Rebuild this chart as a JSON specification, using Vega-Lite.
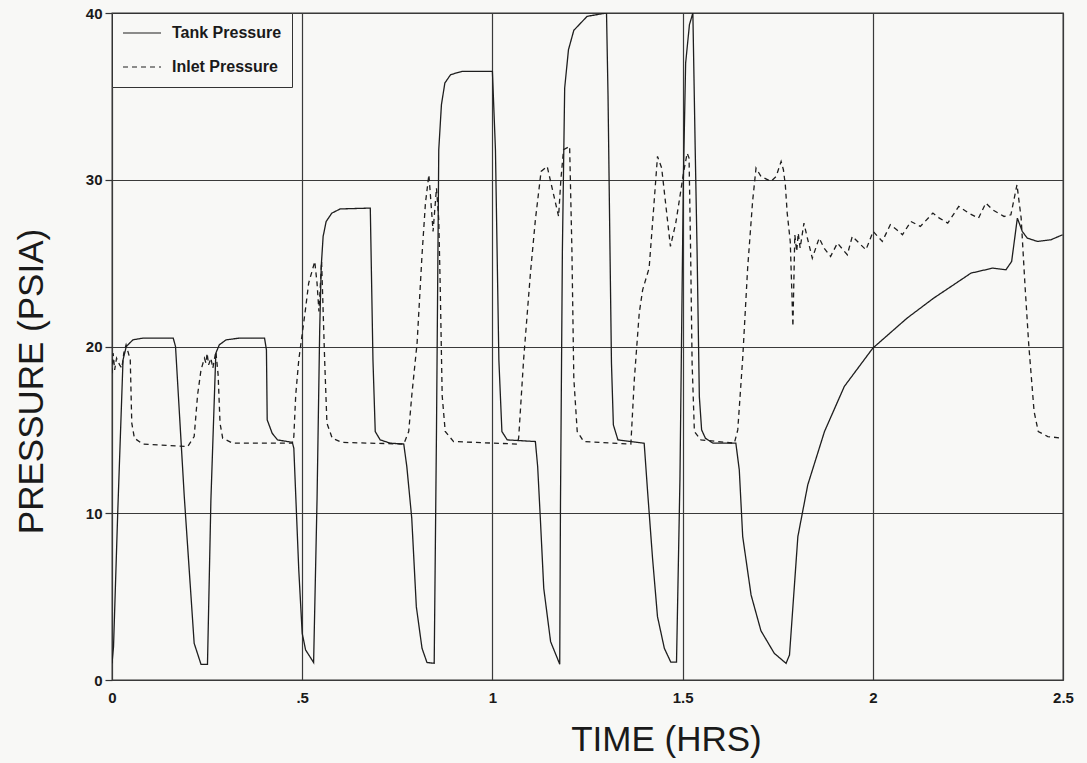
{
  "$schema": "https://vega.github.io/schema/vega-lite/v6.json",
  "autosize": {"type": "none"},
  "width": 951,
  "height": 667,
  "padding": {"left": 112, "top": 13, "right": 24, "bottom": 83},
  "background": "#f8f8f6",
  "config": {
    "view": {"stroke": "#333333", "strokeWidth": 1.3},
    "axis": {
      "labelFont": "Liberation Sans",
      "labelFontWeight": "bold",
      "labelFontSize": 15,
      "labelColor": "#1a1a1a",
      "titleFont": "Liberation Sans",
      "titleFontWeight": "normal",
      "titleFontSize": 35,
      "titleColor": "#1a1a1a",
      "gridColor": "#3a3a3a",
      "gridOpacity": 1,
      "gridWidth": 1.2,
      "domain": false,
      "tickColor": "#333333"
    }
  },
  "data": {
    "values": [
      {"t": 0.0, "p": 1.0, "s": "Tank Pressure"},
      {"t": 0.004, "p": 2.0, "s": "Tank Pressure"},
      {"t": 0.015, "p": 10.0, "s": "Tank Pressure"},
      {"t": 0.029, "p": 19.2, "s": "Tank Pressure"},
      {"t": 0.0375, "p": 20.0, "s": "Tank Pressure"},
      {"t": 0.055, "p": 20.4, "s": "Tank Pressure"},
      {"t": 0.081, "p": 20.5, "s": "Tank Pressure"},
      {"t": 0.161, "p": 20.5, "s": "Tank Pressure"},
      {"t": 0.167, "p": 20.0, "s": "Tank Pressure"},
      {"t": 0.19, "p": 11.0, "s": "Tank Pressure"},
      {"t": 0.216, "p": 2.2, "s": "Tank Pressure"},
      {"t": 0.234, "p": 0.94, "s": "Tank Pressure"},
      {"t": 0.251, "p": 0.94, "s": "Tank Pressure"},
      {"t": 0.26, "p": 10.8, "s": "Tank Pressure"},
      {"t": 0.273, "p": 19.6, "s": "Tank Pressure"},
      {"t": 0.282, "p": 20.1, "s": "Tank Pressure"},
      {"t": 0.3, "p": 20.4, "s": "Tank Pressure"},
      {"t": 0.334, "p": 20.5, "s": "Tank Pressure"},
      {"t": 0.401, "p": 20.5, "s": "Tank Pressure"},
      {"t": 0.406, "p": 19.8, "s": "Tank Pressure"},
      {"t": 0.408, "p": 15.6, "s": "Tank Pressure"},
      {"t": 0.421, "p": 14.8, "s": "Tank Pressure"},
      {"t": 0.435, "p": 14.4, "s": "Tank Pressure"},
      {"t": 0.474, "p": 14.25, "s": "Tank Pressure"},
      {"t": 0.478, "p": 13.9, "s": "Tank Pressure"},
      {"t": 0.491, "p": 6.6, "s": "Tank Pressure"},
      {"t": 0.5, "p": 2.8, "s": "Tank Pressure"},
      {"t": 0.509, "p": 1.8, "s": "Tank Pressure"},
      {"t": 0.53, "p": 1.05, "s": "Tank Pressure"},
      {"t": 0.539, "p": 10.8, "s": "Tank Pressure"},
      {"t": 0.546, "p": 21.0, "s": "Tank Pressure"},
      {"t": 0.55, "p": 24.8, "s": "Tank Pressure"},
      {"t": 0.555, "p": 26.6, "s": "Tank Pressure"},
      {"t": 0.563, "p": 27.5, "s": "Tank Pressure"},
      {"t": 0.578, "p": 28.0, "s": "Tank Pressure"},
      {"t": 0.6, "p": 28.25, "s": "Tank Pressure"},
      {"t": 0.679, "p": 28.3, "s": "Tank Pressure"},
      {"t": 0.686, "p": 19.2, "s": "Tank Pressure"},
      {"t": 0.692, "p": 14.9, "s": "Tank Pressure"},
      {"t": 0.705, "p": 14.4, "s": "Tank Pressure"},
      {"t": 0.732, "p": 14.2, "s": "Tank Pressure"},
      {"t": 0.767, "p": 14.15, "s": "Tank Pressure"},
      {"t": 0.775, "p": 12.8, "s": "Tank Pressure"},
      {"t": 0.788, "p": 9.7, "s": "Tank Pressure"},
      {"t": 0.8, "p": 4.4, "s": "Tank Pressure"},
      {"t": 0.815, "p": 1.9, "s": "Tank Pressure"},
      {"t": 0.828, "p": 1.05, "s": "Tank Pressure"},
      {"t": 0.847, "p": 1.0, "s": "Tank Pressure"},
      {"t": 0.853, "p": 14.9, "s": "Tank Pressure"},
      {"t": 0.859, "p": 31.8, "s": "Tank Pressure"},
      {"t": 0.866, "p": 34.5, "s": "Tank Pressure"},
      {"t": 0.875, "p": 35.8, "s": "Tank Pressure"},
      {"t": 0.89, "p": 36.3, "s": "Tank Pressure"},
      {"t": 0.92, "p": 36.5, "s": "Tank Pressure"},
      {"t": 1.0, "p": 36.5, "s": "Tank Pressure"},
      {"t": 1.008, "p": 31.8, "s": "Tank Pressure"},
      {"t": 1.017, "p": 19.2, "s": "Tank Pressure"},
      {"t": 1.025, "p": 14.9, "s": "Tank Pressure"},
      {"t": 1.039, "p": 14.4, "s": "Tank Pressure"},
      {"t": 1.113, "p": 14.3, "s": "Tank Pressure"},
      {"t": 1.119, "p": 12.8, "s": "Tank Pressure"},
      {"t": 1.126, "p": 9.7, "s": "Tank Pressure"},
      {"t": 1.135, "p": 5.5, "s": "Tank Pressure"},
      {"t": 1.153, "p": 2.3, "s": "Tank Pressure"},
      {"t": 1.177, "p": 0.95, "s": "Tank Pressure"},
      {"t": 1.179, "p": 10.7, "s": "Tank Pressure"},
      {"t": 1.184, "p": 25.8, "s": "Tank Pressure"},
      {"t": 1.19, "p": 35.5, "s": "Tank Pressure"},
      {"t": 1.2, "p": 37.8, "s": "Tank Pressure"},
      {"t": 1.214, "p": 38.96, "s": "Tank Pressure"},
      {"t": 1.249, "p": 39.8, "s": "Tank Pressure"},
      {"t": 1.3, "p": 40.0, "s": "Tank Pressure"},
      {"t": 1.304, "p": 35.0, "s": "Tank Pressure"},
      {"t": 1.309, "p": 26.0, "s": "Tank Pressure"},
      {"t": 1.313, "p": 19.0, "s": "Tank Pressure"},
      {"t": 1.318, "p": 15.3, "s": "Tank Pressure"},
      {"t": 1.33, "p": 14.4, "s": "Tank Pressure"},
      {"t": 1.399, "p": 14.2, "s": "Tank Pressure"},
      {"t": 1.408, "p": 11.3, "s": "Tank Pressure"},
      {"t": 1.421, "p": 7.3, "s": "Tank Pressure"},
      {"t": 1.434, "p": 3.8, "s": "Tank Pressure"},
      {"t": 1.452, "p": 1.9, "s": "Tank Pressure"},
      {"t": 1.469, "p": 1.07, "s": "Tank Pressure"},
      {"t": 1.484, "p": 1.07, "s": "Tank Pressure"},
      {"t": 1.493, "p": 12.0, "s": "Tank Pressure"},
      {"t": 1.502, "p": 30.0, "s": "Tank Pressure"},
      {"t": 1.508, "p": 37.0, "s": "Tank Pressure"},
      {"t": 1.518, "p": 39.3, "s": "Tank Pressure"},
      {"t": 1.527, "p": 40.0, "s": "Tank Pressure"},
      {"t": 1.533, "p": 32.0, "s": "Tank Pressure"},
      {"t": 1.538, "p": 25.8, "s": "Tank Pressure"},
      {"t": 1.544, "p": 17.0, "s": "Tank Pressure"},
      {"t": 1.55, "p": 15.0, "s": "Tank Pressure"},
      {"t": 1.56, "p": 14.5, "s": "Tank Pressure"},
      {"t": 1.58, "p": 14.2, "s": "Tank Pressure"},
      {"t": 1.64, "p": 14.2, "s": "Tank Pressure"},
      {"t": 1.649, "p": 12.6, "s": "Tank Pressure"},
      {"t": 1.658, "p": 8.6, "s": "Tank Pressure"},
      {"t": 1.68, "p": 5.1, "s": "Tank Pressure"},
      {"t": 1.706, "p": 2.95, "s": "Tank Pressure"},
      {"t": 1.741, "p": 1.6, "s": "Tank Pressure"},
      {"t": 1.772, "p": 1.0, "s": "Tank Pressure"},
      {"t": 1.781, "p": 1.5, "s": "Tank Pressure"},
      {"t": 1.79, "p": 4.4, "s": "Tank Pressure"},
      {"t": 1.803, "p": 8.6, "s": "Tank Pressure"},
      {"t": 1.829, "p": 11.7, "s": "Tank Pressure"},
      {"t": 1.873, "p": 14.9, "s": "Tank Pressure"},
      {"t": 1.925, "p": 17.6, "s": "Tank Pressure"},
      {"t": 2.0, "p": 19.9, "s": "Tank Pressure"},
      {"t": 2.03, "p": 20.5, "s": "Tank Pressure"},
      {"t": 2.09, "p": 21.7, "s": "Tank Pressure"},
      {"t": 2.16, "p": 22.9, "s": "Tank Pressure"},
      {"t": 2.232, "p": 24.0, "s": "Tank Pressure"},
      {"t": 2.258, "p": 24.4, "s": "Tank Pressure"},
      {"t": 2.315, "p": 24.7, "s": "Tank Pressure"},
      {"t": 2.35, "p": 24.6, "s": "Tank Pressure"},
      {"t": 2.365, "p": 25.1, "s": "Tank Pressure"},
      {"t": 2.38, "p": 27.7, "s": "Tank Pressure"},
      {"t": 2.393, "p": 26.9, "s": "Tank Pressure"},
      {"t": 2.406, "p": 26.5, "s": "Tank Pressure"},
      {"t": 2.433, "p": 26.3, "s": "Tank Pressure"},
      {"t": 2.468, "p": 26.4, "s": "Tank Pressure"},
      {"t": 2.499, "p": 26.7, "s": "Tank Pressure"},

      {"t": 0.0, "p": 18.4, "s": "Inlet Pressure"},
      {"t": 0.003, "p": 19.6, "s": "Inlet Pressure"},
      {"t": 0.007, "p": 18.6, "s": "Inlet Pressure"},
      {"t": 0.012, "p": 19.3, "s": "Inlet Pressure"},
      {"t": 0.02, "p": 18.9, "s": "Inlet Pressure"},
      {"t": 0.026, "p": 18.7, "s": "Inlet Pressure"},
      {"t": 0.031, "p": 19.6, "s": "Inlet Pressure"},
      {"t": 0.037, "p": 20.1, "s": "Inlet Pressure"},
      {"t": 0.048, "p": 19.2, "s": "Inlet Pressure"},
      {"t": 0.052, "p": 15.4, "s": "Inlet Pressure"},
      {"t": 0.059, "p": 14.5, "s": "Inlet Pressure"},
      {"t": 0.081, "p": 14.15, "s": "Inlet Pressure"},
      {"t": 0.199, "p": 14.0, "s": "Inlet Pressure"},
      {"t": 0.216, "p": 14.6, "s": "Inlet Pressure"},
      {"t": 0.225, "p": 17.1, "s": "Inlet Pressure"},
      {"t": 0.234, "p": 18.6, "s": "Inlet Pressure"},
      {"t": 0.243, "p": 19.3, "s": "Inlet Pressure"},
      {"t": 0.247, "p": 19.0, "s": "Inlet Pressure"},
      {"t": 0.25, "p": 19.6, "s": "Inlet Pressure"},
      {"t": 0.254, "p": 18.9, "s": "Inlet Pressure"},
      {"t": 0.26, "p": 19.3, "s": "Inlet Pressure"},
      {"t": 0.265, "p": 18.7, "s": "Inlet Pressure"},
      {"t": 0.273, "p": 19.7, "s": "Inlet Pressure"},
      {"t": 0.279, "p": 18.3, "s": "Inlet Pressure"},
      {"t": 0.284, "p": 15.4, "s": "Inlet Pressure"},
      {"t": 0.291, "p": 14.5, "s": "Inlet Pressure"},
      {"t": 0.317, "p": 14.2, "s": "Inlet Pressure"},
      {"t": 0.474, "p": 14.2, "s": "Inlet Pressure"},
      {"t": 0.478, "p": 14.6, "s": "Inlet Pressure"},
      {"t": 0.483, "p": 17.1, "s": "Inlet Pressure"},
      {"t": 0.491, "p": 19.2, "s": "Inlet Pressure"},
      {"t": 0.509, "p": 22.3, "s": "Inlet Pressure"},
      {"t": 0.517, "p": 23.8, "s": "Inlet Pressure"},
      {"t": 0.533, "p": 25.1, "s": "Inlet Pressure"},
      {"t": 0.539, "p": 23.8, "s": "Inlet Pressure"},
      {"t": 0.544, "p": 22.1, "s": "Inlet Pressure"},
      {"t": 0.551, "p": 25.1, "s": "Inlet Pressure"},
      {"t": 0.559, "p": 19.2, "s": "Inlet Pressure"},
      {"t": 0.565, "p": 15.4, "s": "Inlet Pressure"},
      {"t": 0.579, "p": 14.5, "s": "Inlet Pressure"},
      {"t": 0.605, "p": 14.25, "s": "Inlet Pressure"},
      {"t": 0.767, "p": 14.15, "s": "Inlet Pressure"},
      {"t": 0.78, "p": 14.9, "s": "Inlet Pressure"},
      {"t": 0.788, "p": 17.05, "s": "Inlet Pressure"},
      {"t": 0.802, "p": 20.2, "s": "Inlet Pressure"},
      {"t": 0.815, "p": 25.5, "s": "Inlet Pressure"},
      {"t": 0.824, "p": 28.6, "s": "Inlet Pressure"},
      {"t": 0.833, "p": 30.3, "s": "Inlet Pressure"},
      {"t": 0.837, "p": 29.1, "s": "Inlet Pressure"},
      {"t": 0.844, "p": 26.9, "s": "Inlet Pressure"},
      {"t": 0.853, "p": 29.5, "s": "Inlet Pressure"},
      {"t": 0.859, "p": 27.6, "s": "Inlet Pressure"},
      {"t": 0.863, "p": 23.4, "s": "Inlet Pressure"},
      {"t": 0.868, "p": 17.05, "s": "Inlet Pressure"},
      {"t": 0.876, "p": 14.9, "s": "Inlet Pressure"},
      {"t": 0.898, "p": 14.3, "s": "Inlet Pressure"},
      {"t": 1.065, "p": 14.15, "s": "Inlet Pressure"},
      {"t": 1.069, "p": 14.5, "s": "Inlet Pressure"},
      {"t": 1.082, "p": 19.2, "s": "Inlet Pressure"},
      {"t": 1.1, "p": 24.4, "s": "Inlet Pressure"},
      {"t": 1.113, "p": 27.6, "s": "Inlet Pressure"},
      {"t": 1.128, "p": 30.5, "s": "Inlet Pressure"},
      {"t": 1.144, "p": 30.8, "s": "Inlet Pressure"},
      {"t": 1.157, "p": 29.5, "s": "Inlet Pressure"},
      {"t": 1.174, "p": 27.8, "s": "Inlet Pressure"},
      {"t": 1.18, "p": 30.0, "s": "Inlet Pressure"},
      {"t": 1.187, "p": 31.8, "s": "Inlet Pressure"},
      {"t": 1.203, "p": 32.0, "s": "Inlet Pressure"},
      {"t": 1.209, "p": 25.8, "s": "Inlet Pressure"},
      {"t": 1.214, "p": 18.1, "s": "Inlet Pressure"},
      {"t": 1.223, "p": 14.9, "s": "Inlet Pressure"},
      {"t": 1.24, "p": 14.3, "s": "Inlet Pressure"},
      {"t": 1.364, "p": 14.15, "s": "Inlet Pressure"},
      {"t": 1.373, "p": 18.0, "s": "Inlet Pressure"},
      {"t": 1.386, "p": 22.0, "s": "Inlet Pressure"},
      {"t": 1.395, "p": 23.4, "s": "Inlet Pressure"},
      {"t": 1.412, "p": 24.7, "s": "Inlet Pressure"},
      {"t": 1.421, "p": 27.4, "s": "Inlet Pressure"},
      {"t": 1.434, "p": 31.4, "s": "Inlet Pressure"},
      {"t": 1.445, "p": 30.7, "s": "Inlet Pressure"},
      {"t": 1.468, "p": 26.0, "s": "Inlet Pressure"},
      {"t": 1.482, "p": 27.4, "s": "Inlet Pressure"},
      {"t": 1.493, "p": 29.0, "s": "Inlet Pressure"},
      {"t": 1.503, "p": 30.5, "s": "Inlet Pressure"},
      {"t": 1.512, "p": 31.6, "s": "Inlet Pressure"},
      {"t": 1.517, "p": 31.3, "s": "Inlet Pressure"},
      {"t": 1.521, "p": 25.8, "s": "Inlet Pressure"},
      {"t": 1.525, "p": 19.0, "s": "Inlet Pressure"},
      {"t": 1.531, "p": 14.9, "s": "Inlet Pressure"},
      {"t": 1.548, "p": 14.4, "s": "Inlet Pressure"},
      {"t": 1.636, "p": 14.2, "s": "Inlet Pressure"},
      {"t": 1.645, "p": 15.0, "s": "Inlet Pressure"},
      {"t": 1.658, "p": 19.3, "s": "Inlet Pressure"},
      {"t": 1.671, "p": 24.7, "s": "Inlet Pressure"},
      {"t": 1.684, "p": 28.7, "s": "Inlet Pressure"},
      {"t": 1.693, "p": 30.7, "s": "Inlet Pressure"},
      {"t": 1.706, "p": 30.2, "s": "Inlet Pressure"},
      {"t": 1.732, "p": 29.9, "s": "Inlet Pressure"},
      {"t": 1.746, "p": 30.2, "s": "Inlet Pressure"},
      {"t": 1.759, "p": 31.1, "s": "Inlet Pressure"},
      {"t": 1.765, "p": 30.6, "s": "Inlet Pressure"},
      {"t": 1.77, "p": 29.7, "s": "Inlet Pressure"},
      {"t": 1.775, "p": 28.0, "s": "Inlet Pressure"},
      {"t": 1.783, "p": 26.3, "s": "Inlet Pressure"},
      {"t": 1.79, "p": 21.2, "s": "Inlet Pressure"},
      {"t": 1.795, "p": 26.7, "s": "Inlet Pressure"},
      {"t": 1.8, "p": 25.7, "s": "Inlet Pressure"},
      {"t": 1.804, "p": 26.8, "s": "Inlet Pressure"},
      {"t": 1.809, "p": 25.9, "s": "Inlet Pressure"},
      {"t": 1.819, "p": 27.4, "s": "Inlet Pressure"},
      {"t": 1.828, "p": 26.5, "s": "Inlet Pressure"},
      {"t": 1.841, "p": 25.3, "s": "Inlet Pressure"},
      {"t": 1.859, "p": 26.5, "s": "Inlet Pressure"},
      {"t": 1.872, "p": 25.9, "s": "Inlet Pressure"},
      {"t": 1.889, "p": 25.4, "s": "Inlet Pressure"},
      {"t": 1.907, "p": 26.2, "s": "Inlet Pressure"},
      {"t": 1.933, "p": 25.5, "s": "Inlet Pressure"},
      {"t": 1.946, "p": 26.6, "s": "Inlet Pressure"},
      {"t": 1.982, "p": 25.8, "s": "Inlet Pressure"},
      {"t": 2.001, "p": 26.9, "s": "Inlet Pressure"},
      {"t": 2.025, "p": 26.3, "s": "Inlet Pressure"},
      {"t": 2.046, "p": 27.3, "s": "Inlet Pressure"},
      {"t": 2.063, "p": 27.0, "s": "Inlet Pressure"},
      {"t": 2.078, "p": 26.7, "s": "Inlet Pressure"},
      {"t": 2.1, "p": 27.5, "s": "Inlet Pressure"},
      {"t": 2.125, "p": 27.2, "s": "Inlet Pressure"},
      {"t": 2.158, "p": 28.0, "s": "Inlet Pressure"},
      {"t": 2.175, "p": 27.7, "s": "Inlet Pressure"},
      {"t": 2.197, "p": 27.4, "s": "Inlet Pressure"},
      {"t": 2.226, "p": 28.4, "s": "Inlet Pressure"},
      {"t": 2.252, "p": 28.0, "s": "Inlet Pressure"},
      {"t": 2.278, "p": 27.7, "s": "Inlet Pressure"},
      {"t": 2.297, "p": 28.6, "s": "Inlet Pressure"},
      {"t": 2.315, "p": 28.2, "s": "Inlet Pressure"},
      {"t": 2.345, "p": 27.8, "s": "Inlet Pressure"},
      {"t": 2.363, "p": 27.9, "s": "Inlet Pressure"},
      {"t": 2.379, "p": 29.7, "s": "Inlet Pressure"},
      {"t": 2.39, "p": 27.7, "s": "Inlet Pressure"},
      {"t": 2.4, "p": 23.7, "s": "Inlet Pressure"},
      {"t": 2.41, "p": 20.1, "s": "Inlet Pressure"},
      {"t": 2.424, "p": 16.1, "s": "Inlet Pressure"},
      {"t": 2.435, "p": 14.9, "s": "Inlet Pressure"},
      {"t": 2.46, "p": 14.6, "s": "Inlet Pressure"},
      {"t": 2.499, "p": 14.5, "s": "Inlet Pressure"}
    ]
  },
  "mark": {"type": "line", "color": "#1e1e1e", "strokeWidth": 1.3, "clip": true},
  "encoding": {
    "x": {
      "field": "t",
      "type": "quantitative",
      "scale": {"domain": [0, 2.5], "nice": false, "zero": false},
      "axis": {
        "title": "TIME (HRS)",
        "values": [0, 0.5, 1, 1.5, 2, 2.5],
        "format": "~g",
        "labelExpr": "datum.value == 0.5 ? '.5' : datum.label",
        "ticks": false,
        "labelPadding": 10,
        "titlePadding": 17,
        "titleX": 554,
        "labelFlush": false
      }
    },
    "y": {
      "field": "p",
      "type": "quantitative",
      "scale": {"domain": [0, 40], "nice": false},
      "axis": {
        "title": "PRESSURE (PSIA)",
        "values": [0, 10, 20, 30, 40],
        "tickSize": 7,
        "tickWidth": 1.2,
        "labelPadding": 3,
        "titlePadding": 36,
        "titleY": 368
      }
    },
    "strokeDash": {
      "field": "s",
      "type": "nominal",
      "scale": {"domain": ["Tank Pressure", "Inlet Pressure"], "range": [[1, 0], [5, 4]]},
      "legend": {
        "title": null,
        "orient": "top-left",
        "offset": 0,
        "strokeColor": "#333333",
        "fillColor": "#f8f8f6",
        "padding": 10,
        "symbolType": "stroke",
        "symbolSize": 1444,
        "symbolStrokeWidth": 1.2,
        "symbolStrokeColor": "#1e1e1e",
        "clipHeight": 20,
        "rowPadding": 14,
        "labelOffset": 10,
        "labelFont": "Liberation Sans",
        "labelFontWeight": "bold",
        "labelFontSize": 16,
        "labelColor": "#1a1a1a"
      }
    }
  }
}
